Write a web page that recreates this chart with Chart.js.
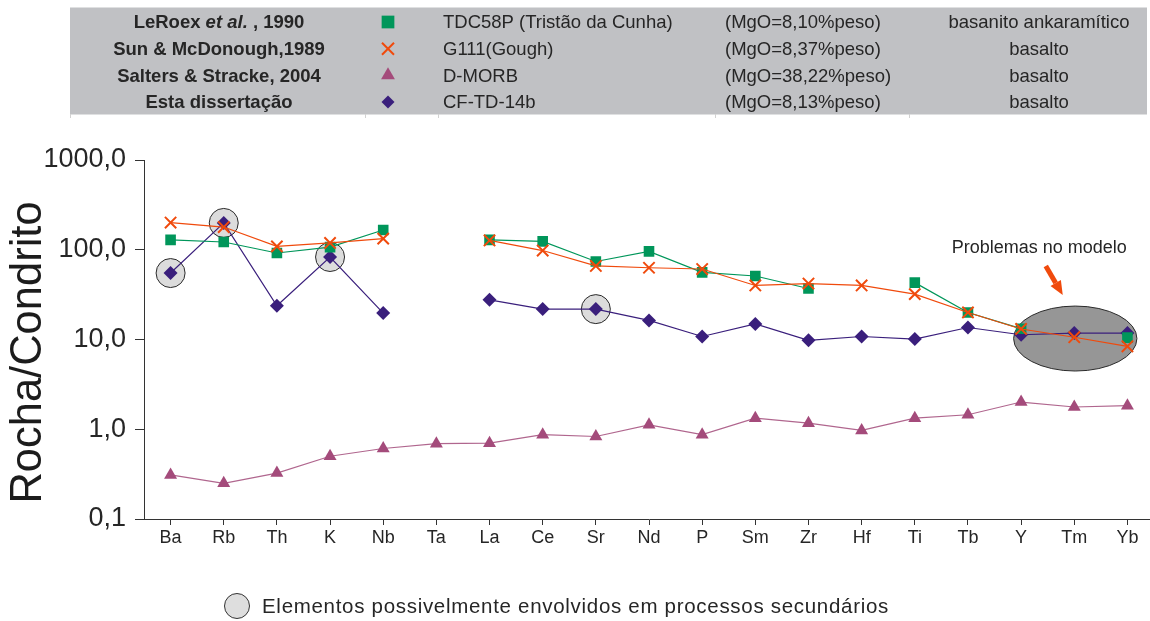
<!DOCTYPE html>
<html>
<head>
<meta charset="utf-8">
<script src="https://cdn.jsdelivr.net/npm/chart.js@4/dist/chart.umd.min.js"></script>
<style>
  html, body { margin: 0; padding: 0; background: #ffffff; overflow: hidden; width: 1150px; height: 621px; }
  #wrap { position: absolute; left: 0; top: 0; width: 1154px; height: 621px; }
  #c { display: block; }
</style>
</head>
<body>
<div id="wrap"><canvas id="c" width="1154" height="621"></canvas></div>
<script>
// ---- data ----
const categories = ['Ba','Rb','Th','K','Nb','Ta','La','Ce','Sr','Nd','P','Sm','Zr','Hf','Ti','Tb','Y','Tm','Yb'];
const tdc58p = [129,122,92,107,166,null,129,124,74,96,56,51,37,null,43,20,13.2,null,10.5];
const g111   = [201,179,109,119,133,null,127,98,66,63,61,40,42,40,32,20,13.1,10.6,8.4];
const dmorb  = [0.31,0.25,0.325,0.50,0.61,0.69,0.70,0.87,0.83,1.12,0.87,1.33,1.17,0.97,1.33,1.45,2.01,1.77,1.83];
const cftd   = [55,199,23.8,83,19.7,null,27.7,21.8,21.8,16.3,10.8,14.9,9.8,10.8,10.1,13.6,11.3,11.8,11.8];
const circledElements = ['Ba','Rb','K','Sr'];
const yTickValues = [0.1, 1, 10, 100, 1000];
const yTickLabels = ['0,1', '1,0', '10,0', '100,0', '1000,0'];
const seriesNames = ['TDC58P (Tristão da Cunha)', 'G111(Gough)', 'D-MORB', 'CF-TD-14b'];
const seriesSources = [['LeRoex ', 'et al.', ' , 1990'], ['Sun & McDonough,1989'], ['Salters & Stracke, 2004'], ['Esta dissertação']];
const seriesMgO = ['(MgO=8,10%peso)', '(MgO=8,37%peso)', '(MgO=38,22%peso)', '(MgO=8,13%peso)'];
const seriesRock = ['basanito ankaramítico', 'basalto', 'basalto', 'basalto'];
const problemLabel = 'Problemas no modelo';
const problemElement = 'Tm';
const noteLabel = 'Elementos possivelmente envolvidos em processos secundários';
const yTitle = 'Rocha/Condrito';

// ---- styles ----
const FONT = "'Liberation Sans', Arial, Helvetica, sans-serif";
const C_GREEN = '#00965a';
const C_ORANGE = '#f04a0c';
const C_MAUVE = '#a44b7b';
const C_PURPLE = '#3a1f7c';
const TXT = '#262626';

const circledData = categories.map((c, i) => circledElements.includes(c) ? cftd[i] : null);

function marker(ctx, style, color, r, x, y, bw) {
  ctx.save();
  ctx.fillStyle = color; ctx.strokeStyle = color; ctx.lineWidth = bw || 0;
  Chart.helpers.drawPoint(ctx, {pointStyle: style, radius: r, rotation: 0, borderWidth: bw || 0}, x, y);
  ctx.restore();
}

const decorPlugin = {
  id: 'decor',
  beforeDatasetsDraw(chart) {
    const ctx = chart.ctx, xs = chart.scales.x, ys = chart.scales.y;
    const idx = categories.indexOf(problemElement);
    const step = xs.getPixelForValue(1) - xs.getPixelForValue(0);
    const decade = ys.getPixelForValue(1) - ys.getPixelForValue(10);
    const cx = xs.getPixelForValue(idx) + 1;
    const cy = ys.getPixelForValue(10.25);
    ctx.save();
    ctx.beginPath();
    ctx.ellipse(cx, cy, 1.16 * step, 0.362 * decade, 0, 0, Math.PI * 2);
    ctx.fillStyle = '#969696';
    ctx.fill();
    ctx.lineWidth = 1; ctx.strokeStyle = '#2a2a2a'; ctx.stroke();
    // annotation text
    ctx.fillStyle = TXT;
    ctx.font = '18px ' + FONT;
    ctx.textAlign = 'center'; ctx.textBaseline = 'alphabetic';
    ctx.fillText(problemLabel, cx - 36, cy - 85.5);
    // arrow
    const x0 = cx - 29.5, y0 = cy - 72.5, x1 = cx - 12.5, y1 = cy - 43.5;
    const ang = Math.atan2(y1 - y0, x1 - x0);
    const hl = 14, hw = 6;
    const bx = x1 - hl * Math.cos(ang), by = y1 - hl * Math.sin(ang);
    ctx.strokeStyle = C_ORANGE; ctx.lineWidth = 5; ctx.lineCap = 'butt';
    ctx.beginPath(); ctx.moveTo(x0, y0); ctx.lineTo(bx, by); ctx.stroke();
    ctx.fillStyle = C_ORANGE;
    ctx.beginPath();
    ctx.moveTo(x1, y1);
    ctx.lineTo(bx + hw * Math.sin(ang), by - hw * Math.cos(ang));
    ctx.lineTo(bx - hw * Math.sin(ang), by + hw * Math.cos(ang));
    ctx.closePath(); ctx.fill();
    ctx.restore();
  },
  afterDraw(chart) {
    const ctx = chart.ctx, ys = chart.scales.y;
    ctx.save();
    // y title
    ctx.fillStyle = '#1c1c1c';
    ctx.font = '43.5px ' + FONT;
    ctx.textAlign = 'center'; ctx.textBaseline = 'middle';
    ctx.translate(29, (ys.top + ys.bottom) / 2 + 13);
    ctx.rotate(-Math.PI / 2);
    ctx.fillText(yTitle, 0, 0);
    ctx.restore();

    // top legend table
    ctx.save();
    ctx.fillStyle = '#c0c1c4';
    ctx.fillRect(70, 7.5, 1077, 107);
    ctx.strokeStyle = '#d2d2d2'; ctx.lineWidth = 1;
    [70.5, 365.5, 438.5, 715.5, 909.5].forEach(x => { ctx.beginPath(); ctx.moveTo(x, 114); ctx.lineTo(x, 118); ctx.stroke(); });
    const baselines = [28.3, 55, 81.6, 108.2];
    const styles = [['rect', C_GREEN, 9, 0], ['crossRot', C_ORANGE, 8.5, 2], ['triangle', C_MAUVE, 8, 0], ['rectRot', C_PURPLE, 6.5, 0]];
    ctx.fillStyle = TXT; ctx.textBaseline = 'alphabetic';
    baselines.forEach((b, i) => {
      const parts = seriesSources[i];
      const fonts = parts.map((p, k) => (parts.length === 3 && k === 1 ? 'italic bold ' : 'bold ') + '18.5px ' + FONT);
      let total = 0;
      parts.forEach((p, k) => { ctx.font = fonts[k]; total += ctx.measureText(p).width; });
      let x = 219 - total / 2;
      ctx.textAlign = 'left';
      parts.forEach((p, k) => { ctx.font = fonts[k]; ctx.fillStyle = TXT; ctx.fillText(p, x, b); x += ctx.measureText(p).width; });
      const s = styles[i];
      marker(ctx, s[0], s[1], s[2], 388, b - 6.3, s[3]);
      ctx.fillStyle = TXT;
      ctx.font = '18.5px ' + FONT;
      ctx.textAlign = 'left';
      ctx.fillText(seriesNames[i], 443, b);
      ctx.fillText(seriesMgO[i], 725, b);
      ctx.textAlign = 'center';
      ctx.fillText(seriesRock[i], 1039, b);
    });
    ctx.restore();

    // bottom note
    ctx.save();
    ctx.beginPath(); ctx.arc(237, 606, 12.5, 0, Math.PI * 2);
    ctx.fillStyle = '#dedede'; ctx.fill();
    ctx.strokeStyle = '#333'; ctx.lineWidth = 1; ctx.stroke();
    ctx.fillStyle = TXT; ctx.font = '20.5px ' + FONT;
    try { ctx.letterSpacing = '0.7px'; } catch (e) {}
    ctx.textAlign = 'left'; ctx.textBaseline = 'middle';
    ctx.fillText(noteLabel, 262, 607);
    ctx.restore();
  }
};

new Chart(document.getElementById('c'), {
  type: 'line',
  data: {
    labels: categories,
    datasets: [
      { label: 'circled', data: circledData, showLine: false, pointStyle: 'circle', pointRadius: 14.5,
        pointBackgroundColor: '#dcdcdc', pointBorderColor: '#2a2a2a', pointBorderWidth: 1, order: 20 },
      { label: seriesNames[2], data: dmorb, borderColor: '#b0668e', borderWidth: 1.2, pointStyle: 'triangle', pointRadius: 7.5,
        pointBackgroundColor: C_MAUVE, pointBorderColor: C_MAUVE, pointBorderWidth: 0, order: 4 },
      { label: seriesNames[3], data: cftd, borderColor: C_PURPLE, borderWidth: 1.2, pointStyle: 'rectRot', pointRadius: 7,
        pointBackgroundColor: C_PURPLE, pointBorderColor: C_PURPLE, pointBorderWidth: 0, order: 3 },
      { label: seriesNames[0], data: tdc58p, borderColor: C_GREEN, borderWidth: 1.2, pointStyle: 'rect', pointRadius: 7.5,
        pointBackgroundColor: C_GREEN, pointBorderColor: C_GREEN, pointBorderWidth: 0, order: 2 },
      { label: seriesNames[1], data: g111, borderColor: C_ORANGE, borderWidth: 1.2, pointStyle: 'crossRot', pointRadius: 8,
        pointBackgroundColor: C_ORANGE, pointBorderColor: C_ORANGE, pointBorderWidth: 2, order: 1 }
    ]
  },
  options: {
    responsive: false,
    maintainAspectRatio: false,
    devicePixelRatio: 1,
    animation: false,
    spanGaps: false,
    layout: { autoPadding: false, padding: { top: 160, left: 0, right: 0, bottom: 0 } },
    plugins: { legend: { display: false }, tooltip: { enabled: false }, title: { display: false } },
    elements: { line: { tension: 0 } },
    scales: {
      x: {
        type: 'category',
        offset: true,
        afterFit(scale) { scale.height = 102; scale.paddingLeft = 0; scale.paddingRight = 0; },
        grid: { display: true, drawOnChartArea: false, drawTicks: true, tickLength: 6, tickColor: '#333', offset: false },
        border: { display: true, color: '#333', width: 1 },
        ticks: { color: TXT, font: { family: FONT, size: 18 }, padding: 2, autoSkip: false, maxRotation: 0 }
      },
      y: {
        type: 'logarithmic',
        min: 0.1, max: 1000,
        afterFit(scale) { scale.width = 144; scale.paddingTop = 0; scale.paddingBottom = 0; },
        afterBuildTicks(scale) { scale.ticks = yTickValues.map(v => ({ value: v })); },
        grid: { display: true, drawOnChartArea: false, drawTicks: true, tickLength: 9, tickColor: '#333' },
        border: { display: true, color: '#333', width: 1 },
        ticks: {
          color: TXT, font: { family: FONT, size: 27 }, padding: 9,
          callback(v) { const i = yTickValues.indexOf(v); return i >= 0 ? yTickLabels[i] : ''; }
        },
        title: { display: false }
      }
    }
  },
  plugins: [decorPlugin]
});
</script>
</body>
</html>
